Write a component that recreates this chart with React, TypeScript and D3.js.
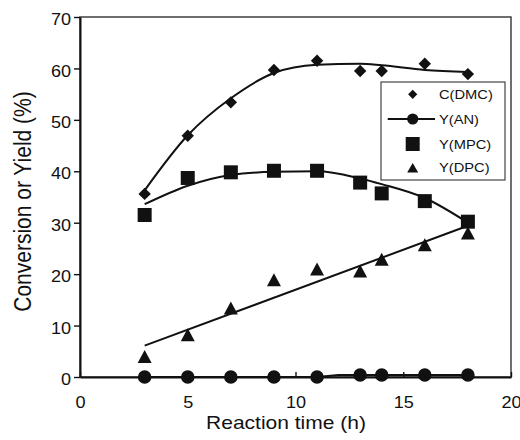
import React, { useEffect, useRef } from "react";
import * as d3 from "d3";

// measured points
const hours = [3, 5, 7, 9, 11, 13, 14, 16, 18];
const cDMC = [35.6, 46.9, 53.4, 59.7, 61.5, 59.5, 59.5, 60.9, 58.9];
const yAN = [0, 0, 0, 0, 0, 0.4, 0.4, 0.4, 0.4];
const yMPC = [31.5, 38.7, 39.8, 40.1, 40.1, 37.8, 35.7, 34.2, 30.2];
const yDPC = [4.0, 8.2, 13.4, 18.9, 21.0, 20.6, 22.9, 25.7, 28.0];

// fitted curves
const fitDMC = [36.3, 47.0, 54.2, 59.1, 60.7, 60.9, 60.6, 59.7, 59.3];
const fitMPC = [33.6, 37.2, 39.3, 39.9, 40.0, 38.6, 37.5, 34.8, 30.0];
const dpcHours = [3, 18];
const fitDPC = [6.1, 29.4];
const anHours = [3, 11, 12, 18];
const fitAN = [0, 0, 0.4, 0.4];

const xTicks = [0, 5, 10, 15, 20];
const yTicks = [0, 10, 20, 30, 40, 50, 60, 70];
const legendLabels = ["C(DMC)", "Y(AN)", "Y(MPC)", "Y(DPC)"];

const FONT = "'Liberation Sans', Arial, Helvetica, sans-serif";
const STRETCH = "scale(1.13,1)";

const App = () => {
  const ref = useRef<SVGSVGElement>(null);

  useEffect(() => {
    const width = 520;
    const height = 440;
    const margin = { top: 17, left: 80, bottom: 63, right: 9 };

    const svg = d3.select(ref.current);
    svg.selectAll("*").remove();
    svg.attr("width", width).attr("height", height);

    const x = d3.scaleLinear().domain([0, 20]).range([margin.left, width - margin.right]);
    const y = d3.scaleLinear().domain([0, 70]).range([height - margin.bottom, margin.top]);

    const ink = "#111";

    // frame
    svg
      .append("rect")
      .attr("x", x(0))
      .attr("y", y(70))
      .attr("width", x(20) - x(0))
      .attr("height", y(0) - y(70))
      .attr("fill", "none")
      .attr("stroke", "#333")
      .attr("stroke-width", 1.4);

    // x axis, ticks pointing inside
    const gx = svg
      .append("g")
      .attr("transform", `translate(0, ${y(0)})`)
      .call(d3.axisBottom(x).tickValues(xTicks).tickSizeInner(-5).tickSizeOuter(0).tickPadding(20));
    gx.select(".domain").attr("stroke", ink).attr("stroke-width", 2);
    gx.selectAll(".tick line").attr("stroke", ink).attr("stroke-width", 1.4);
    gx.selectAll(".tick text")
      .attr("font-family", FONT)
      .attr("font-size", 16)
      .attr("fill", ink)
      .attr("transform", STRETCH);

    // y axis, ticks outside
    const gy = svg
      .append("g")
      .attr("transform", `translate(${x(0)}, 0)`)
      .call(d3.axisLeft(y).tickValues(yTicks).tickSizeInner(6).tickSizeOuter(0).tickPadding(3));
    gy.select(".domain").attr("stroke", ink).attr("stroke-width", 2);
    gy.selectAll(".tick line").attr("stroke", ink).attr("stroke-width", 1.4);
    gy.selectAll(".tick text")
      .attr("font-family", FONT)
      .attr("font-size", 16)
      .attr("fill", ink)
      .attr("x", 0)
      .attr("dy", "0.48em")
      .attr("transform", `translate(-9,0) ${STRETCH}`);

    // axis titles
    svg
      .append("text")
      .attr("transform", `translate(286, 429) ${STRETCH}`)
      .attr("text-anchor", "middle")
      .attr("font-family", FONT)
      .attr("font-size", 18.6)
      .attr("fill", ink)
      .text("Reaction time (h)");

    svg
      .append("text")
      .attr("transform", `translate(31, 201.5) rotate(-90) scale(1,1.13)`)
      .attr("text-anchor", "middle")
      .attr("font-family", FONT)
      .attr("font-size", 21)
      .attr("fill", ink)
      .text("Conversion or Yield (%)");

    // fitted lines
    const smooth = d3
      .line<number>()
      .x((d, i) => x(hours[i]))
      .y((d) => y(d))
      .curve(d3.curveMonotoneX);

    const straight = (hs: number[]) =>
      d3
        .line<number>()
        .x((d, i) => x(hs[i]))
        .y((d) => y(d));

    const lines = svg.append("g").attr("fill", "none").attr("stroke", ink).attr("stroke-width", 2);
    lines.append("path").attr("d", smooth(fitDMC));
    lines.append("path").attr("d", smooth(fitMPC));
    lines.append("path").attr("d", straight(dpcHours)(fitDPC));
    lines.append("path").attr("d", straight(anHours)(fitAN));

    // marker shapes
    const diamond = (s: number) => `M0,${-s}L${s},0L0,${s}L${-s},0Z`;
    const square = d3.symbol(d3.symbolSquare, 196)();
    const circle = (r: number) => d3.symbol(d3.symbolCircle, Math.PI * r * r)();
    const triangle = (w: number, h: number) => `M0,${-h / 2}L${w / 2},${h / 2}L${-w / 2},${h / 2}Z`;

    const markers = svg.append("g").attr("fill", ink);
    const drawSeries = (vals: number[], shape: string) => {
      markers
        .append("g")
        .selectAll("path")
        .data(vals)
        .enter()
        .append("path")
        .attr("transform", (d, i) => `translate(${x(hours[i])}, ${y(d)})`)
        .attr("d", shape);
    };
    drawSeries(yAN, circle(6.8));
    drawSeries(yDPC, triangle(14, 13));
    drawSeries(yMPC, square);
    drawSeries(cDMC, diamond(6.2));

    // legend
    const legend = svg.append("g");
    legend
      .append("rect")
      .attr("x", 381)
      .attr("y", 82)
      .attr("width", 124)
      .attr("height", 98)
      .attr("fill", "#fff")
      .attr("stroke", "#444")
      .attr("stroke-width", 1.2);

    const rows = [94.3, 119, 144, 167.7];
    const legendShapes = [diamond(4.6), circle(5.6), square, triangle(11, 9.5)];
    const item = legend
      .selectAll("g.item")
      .data(legendLabels)
      .enter()
      .append("g")
      .attr("class", "item")
      .attr("transform", (d, i) => `translate(0, ${rows[i]})`);

    item
      .filter((d) => d === "Y(AN)")
      .append("line")
      .attr("x1", 387.7)
      .attr("x2", 435)
      .attr("stroke", ink)
      .attr("stroke-width", 2);

    item
      .append("path")
      .attr("transform", "translate(412.7, 0)")
      .attr("d", (d, i) => legendShapes[i])
      .attr("fill", ink);

    item
      .append("text")
      .attr("transform", `translate(439, 4.7) ${STRETCH}`)
      .attr("font-family", FONT)
      .attr("font-size", 13)
      .attr("fill", ink)
      .text((d) => d);
  }, []);

  return <svg ref={ref} style={{ position: "absolute", left: 0, top: 0 }}></svg>;
};

export default App;
